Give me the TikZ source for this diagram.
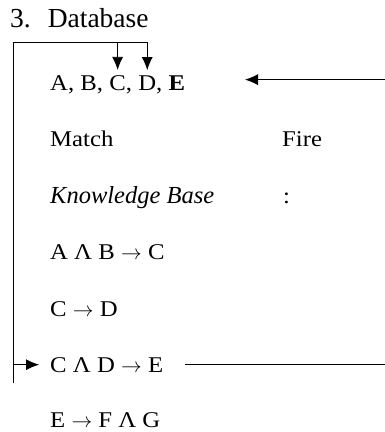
\documentclass[tikz,border=0pt]{standalone}
\usepackage{fontspec}
\setmainfont{Liberation Serif}
\newfontfamily\rulefont[FakeStretch=1.1]{Liberation Serif}
\usetikzlibrary{positioning, arrows.meta}

\tikzset{
    entry/.style={anchor=base west, inner sep=0pt, font=\rulefont\fontsize{22.5}{27}\selectfont},
    fact/.style={entry},
    link/.style={line width=0.8pt},
    feed/.style={link, -{Latex[length=13pt, width=11pt]}}
}

\begin{document}
\begin{tikzpicture}[x=1pt, y=-1pt]
    \useasboundingbox (0,0) rectangle (385,432);

    % Heading
    \node [anchor=base west, inner sep=0pt, font=\fontsize{27.5}{32}\selectfont] (title) at (10,27) {3.\hspace{17pt}Database};

    % Facts in working memory
    \node [fact] (fA) at (50,90) {A\rlap{,}};
    \node [fact, right=12pt of fA.base east, anchor=base west] (fB) {B\rlap{,}};
    \node [fact, right=12pt of fB.base east, anchor=base west] (fC) {C\rlap{,}};
    \node [fact, right=12pt of fC.base east, anchor=base west] (fD) {D\rlap{,}};
    \node [fact, right=12pt of fD.base east, anchor=base west] (fE) {\textbf{E}};

    % Match / fire cycle
    \node [entry] (match) at (50,146) {Match};
    \node [entry] (fire) at (282,146) {Fire};
    \node [entry, font=\fontsize{24.5}{29}\selectfont\itshape] (kb) at (50,203) {Knowledge Base};
    \node [entry] (colon) at (283,203) {:};

    % Rules
    \node [entry] (r1) at (50,259) {A Λ B $\rightarrow$ C};
    \node [entry] (r2) at (50,316) {C $\rightarrow$ D};
    \node [entry] (r3) at (50,372) {C Λ D $\rightarrow$ E};
    \node [entry] (r4) at (50,427) {E $\rightarrow$ F Λ G};

    % Loop back from the fired rule
    \coordinate (top) at (13,42);
    \coordinate (bottom) at (13,383);
    \coordinate (edge) at (385,0);
    \coordinate (inlet) at (245,0);

    \draw [feed, shorten >=5pt] (bottom) |- (top -| fD) -- (fD);
    \draw [feed, shorten >=5pt] (top -| fC) -- (fC);
    \draw [feed, shorten >=11pt] (bottom |- r3.west) -- (r3.west);
    \draw [link, shorten <=22pt] (r3) -- (r3 -| edge);
    \draw [feed] ([yshift=3pt]fE -| edge) -- ([yshift=3pt]fE -| inlet);
\end{tikzpicture}
\end{document}
